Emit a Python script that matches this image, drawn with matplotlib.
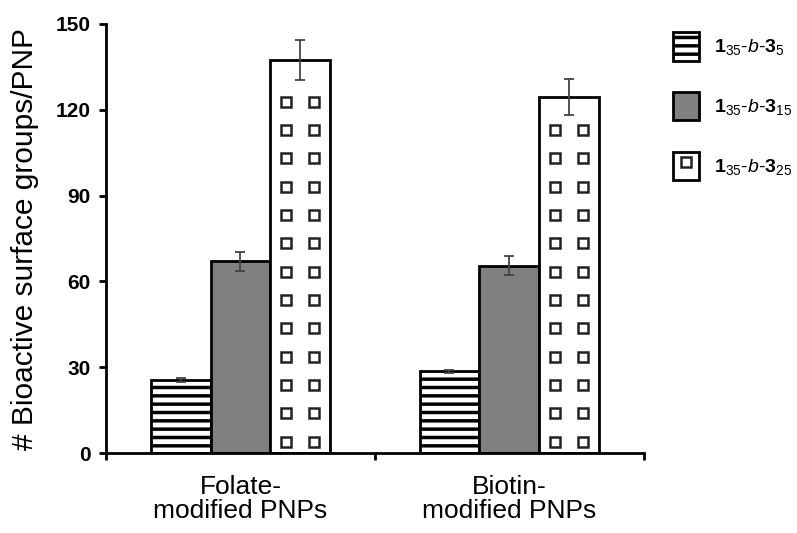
import numpy as np
import matplotlib
matplotlib.use("Agg")
import matplotlib.pyplot as plt
from matplotlib.patches import Patch
from matplotlib.lines import Line2D
from matplotlib.legend_handler import HandlerTuple

# data
groups = ["Folate-\nmodified PNPs", "Biotin-\nmodified PNPs"]
series = [r"$\mathbf{1}_{35}$-$\mathit{b}$-$\mathbf{3}_{5}$",
          r"$\mathbf{1}_{35}$-$\mathit{b}$-$\mathbf{3}_{15}$",
          r"$\mathbf{1}_{35}$-$\mathit{b}$-$\mathbf{3}_{25}$"]
vals_5 = [25.6, 28.6]
vals_15 = [67.0, 65.5]
vals_25 = [137.5, 124.5]
err_5 = [0.6, 0.6]
err_15 = [3.4, 3.3]
err_25 = [7.0, 6.3]
yticks = [0, 30, 60, 90, 120, 150]

plt.rcParams['font.family'] = ['Liberation Sans', 'DejaVu Sans']
plt.rcParams['mathtext.fontset'] = 'custom'
plt.rcParams['mathtext.rm'] = 'Liberation Sans'
plt.rcParams['mathtext.bf'] = 'Liberation Sans:bold'
plt.rcParams['mathtext.it'] = 'Liberation Sans:italic'
plt.rcParams['hatch.color'] = 'black'
plt.rcParams['hatch.linewidth'] = 2.5

fig = plt.figure(figsize=(7.97, 5.33), dpi=100)
ax = fig.add_axes([0.133, 0.15, 0.675, 0.805])

x = np.arange(len(groups))
w = 0.223

ax.bar(x - w, vals_5, w, color='white', edgecolor='black', hatch='--', linewidth=2, zorder=2)
ax.bar(x, vals_15, w, color='#808080', edgecolor='black', linewidth=2, zorder=2)
ax.bar(x + w, vals_25, w, color='white', edgecolor='black', linewidth=2, zorder=2)

# small open squares pattern inside the 3_25 bars
for xi, v in zip(x + w, vals_25):
    rows = np.arange(4.0, v - 5, 9.9)
    for dx in (-0.052, 0.052):
        ax.plot(np.full(len(rows), xi + dx), rows, ls='none', marker='s', ms=7,
                mfc='white', mec='#222222', mew=1.8, zorder=3)

for off, v, e in [(-w, vals_5, err_5), (0, vals_15, err_15), (w, vals_25, err_25)]:
    ax.errorbar(x + off, v, yerr=e, fmt='none', ecolor='#444444', elinewidth=1.3,
                capsize=3.5, capthick=1.3, zorder=4)

ax.set_xlim(-0.5, 1.5)
ax.set_ylim(0, 150)
ax.set_yticks(yticks)
ax.set_yticklabels([str(t) for t in yticks], fontsize=15, fontweight='bold')
ax.set_xticks([-0.5, 0.5, 1.5])
ax.set_xticklabels([])
ax.set_xticks(x, minor=True)
ax.set_xticklabels(groups, minor=True, fontsize=19, linespacing=1.0)
ax.tick_params(axis='x', which='minor', length=0, pad=16)
ax.tick_params(axis='x', which='major', length=5, width=2, direction='out')
ax.tick_params(axis='y', length=5, width=2, direction='out', pad=6)
ax.set_ylabel("# Bioactive surface groups/PNP", fontsize=21.5, labelpad=12)

for s in ['top', 'right']:
    ax.spines[s].set_visible(False)
for s in ['left', 'bottom']:
    ax.spines[s].set_linewidth(2)

h1 = Patch(facecolor='white', edgecolor='black', hatch='--', linewidth=2)
h2 = Patch(facecolor='#808080', edgecolor='black', linewidth=2)
h3 = (Patch(facecolor='white', edgecolor='black', linewidth=2),
      Line2D([], [], ls='none', marker='s', ms=7, mfc='white', mec='#222222', mew=1.8))
fig.legend([h1, h2, h3], series, loc='upper left', bbox_to_anchor=(0.835, 0.955),
           frameon=False, fontsize=14, handlelength=1.3, handleheight=1.9,
           labelspacing=1.6, handletextpad=0.8, borderaxespad=0,
           handler_map={tuple: HandlerTuple(ndivide=1)})

fig.savefig("out.png", dpi=100)
